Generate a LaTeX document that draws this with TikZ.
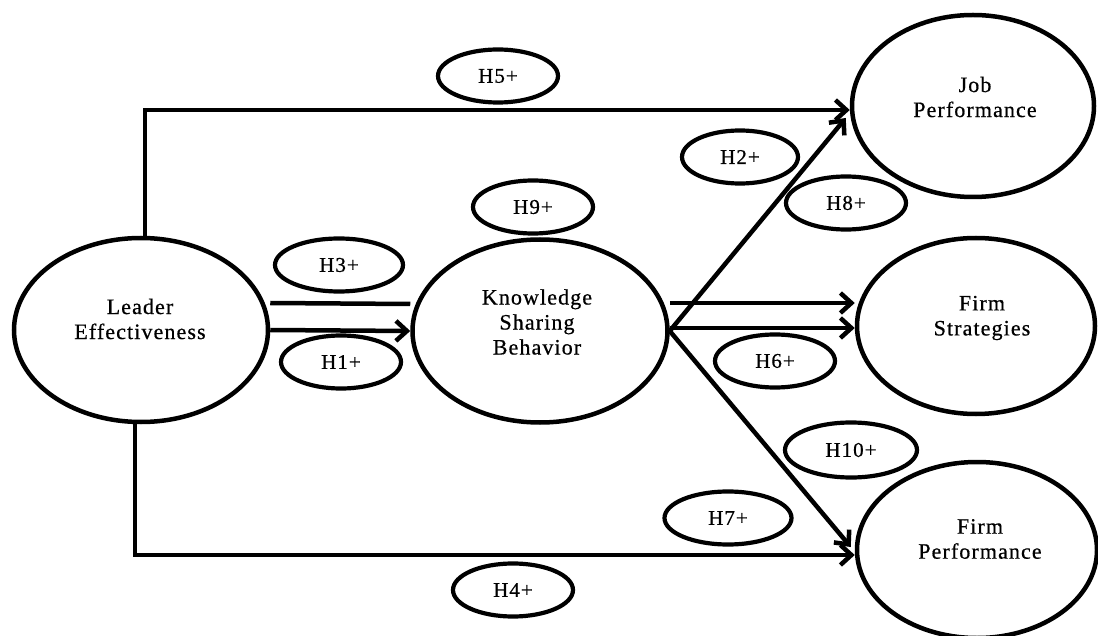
\documentclass[tikz,border=0pt]{standalone}
\usepackage{fontspec}
\setmainfont[LetterSpace=5,FakeBold=0.6]{Liberation Serif}
\usetikzlibrary{shapes.geometric,arrows.meta}
\begin{document}
\begin{tikzpicture}[x=1pt,y=-1pt,
  big/.style={ellipse,draw,line width=4.5pt,inner sep=0pt},
  hyp/.style={ellipse,draw,line width=4.2pt,inner sep=0pt,minimum width=120pt,minimum height=53pt,font=\fontsize{21}{22}\selectfont},
  txt/.style={align=center,inner sep=0pt,font=\fontsize{22}{25}\selectfont},
  conn/.style={line width=4.5pt},
  arr/.style={conn,-{Straight Barb[length=11pt,width=20pt]}}]
\fill[white] (0,0) rectangle (1098,636);
\useasboundingbox (0,0) rectangle (1098,636);
% main constructs
\node[big,minimum width=254pt,minimum height=184pt] (LE) at (141,330) {};
\node[big,minimum width=255pt,minimum height=183pt] (KSB) at (540,331) {};
\node[big,minimum width=242pt,minimum height=182pt] (JP) at (973,106) {};
\node[big,minimum width=238pt,minimum height=176pt] (FS) at (976,326) {};
\node[big,minimum width=240pt,minimum height=176pt] (FP) at (977,550) {};
\node[txt] (LEt) at (140,319) {Leader\\Effectiveness};
\node[txt] (KSBt) at (537,322) {Knowledge\\Sharing\\Behavior};
\node[txt] (JPt) at (975,97) {Job\\Performance};
\node[txt] (FSt) at (982,318) {Firm\\Strategies};
\node[txt] (FPt) at (980,539) {Firm\\Performance};
% connectors
\draw[arr] ([xshift=4pt]LE.north) |- ([yshift=-4pt]JP.west);
\draw[arr] ([xshift=-6pt]LE.south) |- ([yshift=-5pt]FP.west);
\draw[conn] ([yshift=27pt]LE.east) -- ([yshift=27pt]KSB.west);
\draw[arr] (LE.east) -- (KSB.west);
\draw[arr] ([yshift=28pt]KSB.east) -- ([yshift=28pt]KSB.east -| FS.west);
\draw[arr] ([yshift=3pt]KSB.east) -- ([yshift=3pt]KSB.east -| FS.west);
\draw[arr] (KSB.east) -- ([yshift=-12pt,xshift=-4pt]JP.west);
\draw[arr] (KSB.east) -- ([yshift=3pt,xshift=-4pt]FP.west);
% hypothesis labels
\node[hyp] (H5) at (498,76) {H5+};
\node[hyp] (H9) at (533,207) {H9+};
\node[hyp,minimum width=128pt] (H3) at (339,265) {H3+};
\node[hyp] (H1) at (341,362) {H1+};
\node[hyp,minimum width=116pt] (H2) at (740,157) {H2+};
\node[hyp] (H8) at (846,203) {H8+};
\node[hyp] (H6) at (775,361) {H6+};
\node[hyp,minimum width=132pt,minimum height=55pt] (H10) at (851,450) {H10+};
\node[hyp,minimum width=127pt] (H7) at (728,518) {H7+};
\node[hyp] (H4) at (513,590) {H4+};
\end{tikzpicture}
\end{document}
